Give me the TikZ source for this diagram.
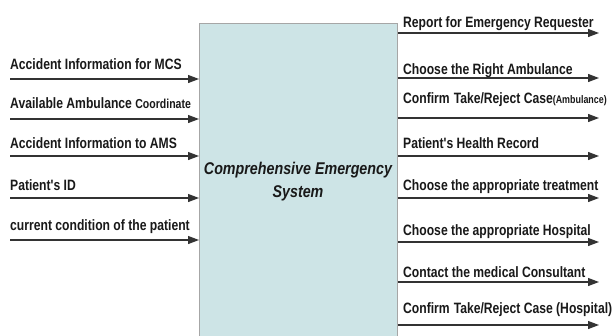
\documentclass[tikz,border=0pt]{standalone}
\usepackage{fontspec}
\setmainfont{Liberation Sans}
\newfontfamily\labfont[FakeStretch=0.81]{Liberation Sans}
\newfontfamily\ttlfont[FakeStretch=0.84]{Liberation Sans}
\usetikzlibrary{arrows.meta}
\begin{document}
\begin{tikzpicture}[x=1pt,y=-1pt,
  flow/.style={draw=black!80,line width=1.2pt,-{Triangle[length=11pt,width=8pt]}},
  lab/.style={anchor=base west,inner sep=0pt,font=\labfont\bfseries\fontsize{15}{17}\selectfont,text=black!90},
  sysbox/.style={draw=gray!70,fill={rgb,255:red,205;green,228;blue,230},line width=0.8pt}]
\useasboundingbox (0,0) rectangle (616,335);
\clip (0,0) rectangle (616,335);
\fill[white] (0,0) rectangle (616,335);
\node[sysbox,minimum width=198pt,minimum height=320pt,anchor=north west,inner sep=0pt] (box) at (199,23) {};
\node[font=\ttlfont\bfseries\itshape\fontsize{17}{23}\selectfont,align=center,text=black!90,anchor=base] (title) at (298,197) {Comprehensive Emergency\\System};
% inputs
\foreach \i/\y/\b/\t in {1/79/69/{Accident Information for MCS},
                       2/119/108/{Available Ambulance {\fontsize{13}{14}\selectfont Coordinate}},
                       3/156/148/{Accident Information to AMS},
                       4/198/190/{Patient's ID},
                       5/240/230/{current condition of the patient}}{
  \coordinate (in\i) at (10,\y);
  \draw[flow] (in\i) -- (box.west |- in\i);
  \node[lab] (inl\i) at (10,\b) {\t};
}
% outputs
\foreach \i/\y/\b/\t in {1/33/27/{Report for Emergency Requester},
                       2/78/74/{Choose the Right Ambulance},
                       3/118/103/{Confirm\hspace{4pt}Take/Reject Case{\fontsize{11}{12}\selectfont(Ambulance)}},
                       4/156/148/{Patient's Health Record},
                       5/198/190/{Choose the appropriate treatment},
                       6/242/235/{Choose the appropriate Hospital},
                       7/282/277/{Contact the medical Consultant},
                       8/325/313/{Confirm\hspace{4pt}Take/Reject Case (Hospital)}}{
  \coordinate (out\i) at (599,\y);
  \draw[flow] (box.east |- out\i) -- (out\i);
  \node[lab] (outl\i) at (403,\b) {\t};
}
\end{tikzpicture}
\end{document}
